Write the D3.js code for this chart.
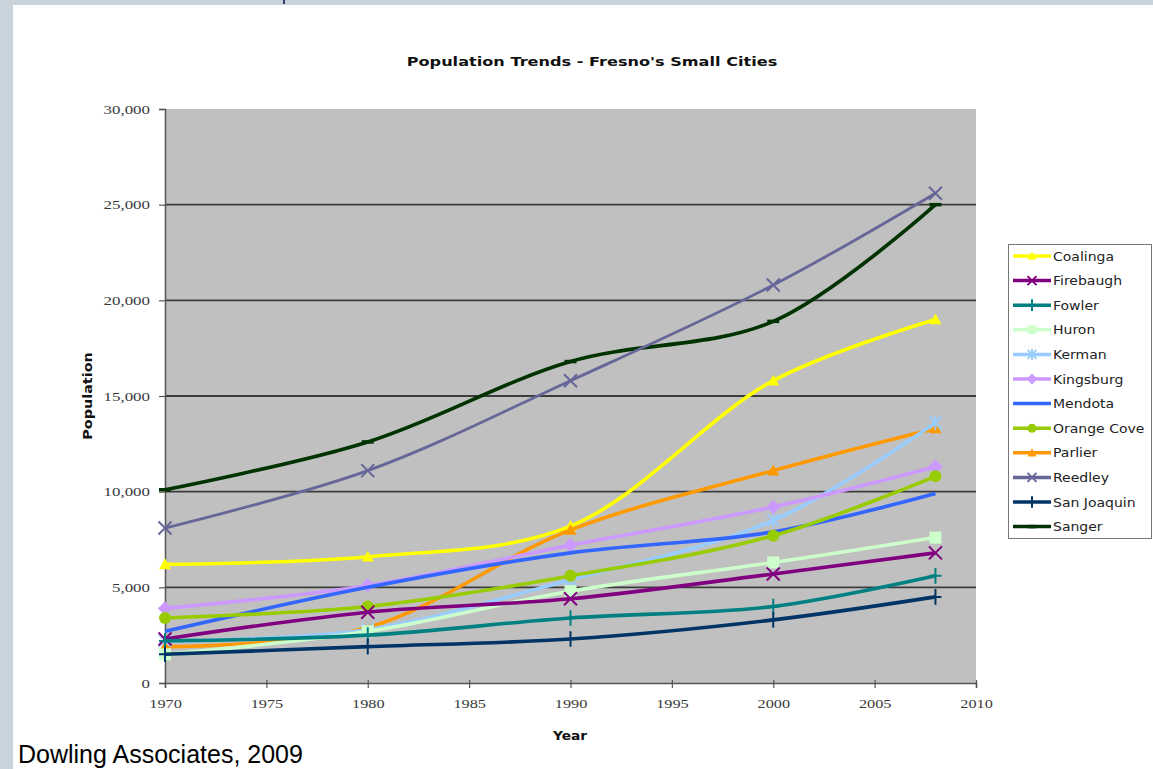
<!DOCTYPE html>
<html>
<head>
<meta charset="utf-8">
<script src="https://cdn.jsdelivr.net/npm/d3@7/dist/d3.min.js"></script>
<style>
  html, body { margin: 0; padding: 0; background: #c8d3dc; }
  svg { display: block; }
</style>
</head>
<body>
<svg id="chart" width="1153" height="769"></svg>
<script>
const years = [1970, 1980, 1990, 2000, 2008];
const cities = ["Coalinga","Firebaugh","Fowler","Huron","Kerman","Kingsburg","Mendota","Orange Cove","Parlier","Reedley","San Joaquin","Sanger"];
const coalinga   = [6200, 6600, 8200, 15800, 19000];
const firebaugh  = [2300, 3700, 4400, 5700, 6800];
const fowler     = [2200, 2500, 3400, 4000, 5600];
const huron      = [1500, 2700, 4800, 6300, 7600];
const kerman     = [2200, 2800, 5400, 8500, 13600];
const kingsburg  = [3900, 5100, 7200, 9200, 11300];
const mendota    = [2700, 5000, 6800, 7900, 9900];
const orangeCove = [3400, 4000, 5600, 7700, 10800];
const parlier    = [1900, 2900, 8000, 11100, 13300];
const reedley    = [8100, 11100, 15800, 20800, 25600];
const sanJoaquin = [1500, 1900, 2300, 3300, 4500];
const sanger     = [10100, 12600, 16800, 18900, 25000];
const yTicks = [0, 5000, 10000, 15000, 20000, 25000, 30000];
const xTicks = [1970, 1975, 1980, 1985, 1990, 1995, 2000, 2005, 2010];

const seriesValues = [coalinga, firebaugh, fowler, huron, kerman, kingsburg, mendota, orangeCove, parlier, reedley, sanJoaquin, sanger];
const colors = ["#ffff00","#800080","#008080","#ccffcc","#99ccff","#cc99ff","#3366ff","#99cc00","#ff9900","#666699","#003366","#003300"];
const markers = ["triangle","x","plus","square","asterisk","diamond","none","circle","triangle","x","plus","dash"];

function stretch(sel, factor) {
  sel.each(function () {
    const w = this.getComputedTextLength();
    d3.select(this).attr("textLength", w * factor).attr("lengthAdjust", "spacingAndGlyphs");
  });
}

const svg = d3.select("#chart");
// white page area
svg.append("rect").attr("x", 13).attr("y", 5).attr("width", 1140).attr("height", 764).attr("fill", "#ffffff");
svg.append("line").attr("x1", 284).attr("x2", 284).attr("y1", 0).attr("y2", 4).attr("stroke", "#334466").attr("stroke-width", 2);

const pLeft = 165, pRight = 976, pTop = 109, pBottom = 683;
const x = d3.scaleLinear().domain([1970, 2010]).range([pLeft, pRight]);
const y = d3.scaleLinear().domain([0, 30000]).range([pBottom, pTop]);

svg.append("rect").attr("x", pLeft).attr("y", pTop).attr("width", pRight - pLeft).attr("height", pBottom - pTop).attr("fill", "#c0c0c0");

// gridlines
svg.append("g").selectAll("line").data(yTicks.filter(d => d > 0 && d < 30000)).join("line")
  .attr("x1", pLeft).attr("x2", pRight).attr("y1", d => y(d)).attr("y2", d => y(d))
  .attr("stroke", "#3c3c3c").attr("stroke-width", 1.8);

// axes
const yAxis = d3.axisLeft(y).tickValues(yTicks).tickFormat(d3.format(",")).tickSize(6).tickPadding(9);
const gy = svg.append("g").attr("transform", `translate(${pLeft},0)`).call(yAxis);
gy.select(".domain").attr("stroke", "#555").attr("stroke-width", 1.5);
gy.selectAll(".tick line").attr("stroke", "#555").attr("stroke-width", 1.2);
gy.selectAll("text").attr("font-family", "Liberation Serif, serif").attr("font-size", 13).attr("fill", "#3a3a3a");
stretch(gy.selectAll("text"), 1.3);

const xAxis = d3.axisBottom(x).tickValues(xTicks).tickFormat(d3.format("d")).tickSize(5).tickPadding(11);
const gx = svg.append("g").attr("transform", `translate(0,${pBottom})`).call(xAxis);
gx.select(".domain").attr("stroke", "#555").attr("stroke-width", 1.5);
gx.selectAll(".tick line").attr("stroke", "#555").attr("stroke-width", 1.2).attr("y1", -3);
gx.selectAll("text").attr("font-family", "Liberation Serif, serif").attr("font-size", 13).attr("fill", "#3a3a3a");
stretch(gx.selectAll("text"), 1.25);

// titles
const title = svg.append("text").attr("x", 592).attr("y", 66).attr("text-anchor", "middle")
  .attr("font-family", "DejaVu Sans, sans-serif").attr("font-weight", "bold").attr("font-size", 13)
  .attr("fill", "#111").text("Population Trends - Fresno's Small Cities");
stretch(title, 1.24);
const ylab = svg.append("text").attr("transform", "translate(92,396) rotate(-90)").attr("text-anchor", "middle")
  .attr("font-family", "DejaVu Sans, sans-serif").attr("font-weight", "bold").attr("font-size", 12.5)
  .attr("fill", "#111").text("Population");
stretch(ylab, 1.15);
const xlab = svg.append("text").attr("x", 570).attr("y", 740).attr("text-anchor", "middle")
  .attr("font-family", "DejaVu Sans, sans-serif").attr("font-weight", "bold").attr("font-size", 12.5)
  .attr("fill", "#111").text("Year");
stretch(xlab, 1.1);
svg.append("text").attr("x", 18).attr("y", 763)
  .attr("font-family", "Liberation Sans, Arial, sans-serif").attr("font-size", 25)
  .attr("fill", "#000").text("Dowling Associates, 2009");

// marker drawing
function drawMarker(g, type, cx, cy, color, s) {
  const sw = 2;
  if (type === "triangle") {
    g.append("path").attr("d", `M${cx},${cy - s}L${cx + s},${cy + s * 0.8}L${cx - s},${cy + s * 0.8}Z`).attr("fill", color);
  } else if (type === "square") {
    g.append("rect").attr("x", cx - s).attr("y", cy - s).attr("width", 2 * s).attr("height", 2 * s).attr("fill", color);
  } else if (type === "diamond") {
    g.append("path").attr("d", `M${cx},${cy - s * 1.2}L${cx + s * 1.2},${cy}L${cx},${cy + s * 1.2}L${cx - s * 1.2},${cy}Z`).attr("fill", color);
  } else if (type === "circle") {
    g.append("circle").attr("cx", cx).attr("cy", cy).attr("r", s).attr("fill", color);
  } else if (type === "x") {
    g.append("path").attr("d", `M${cx - s},${cy - s}L${cx + s},${cy + s}M${cx - s},${cy + s}L${cx + s},${cy - s}`).attr("stroke", color).attr("stroke-width", sw);
  } else if (type === "plus") {
    g.append("path").attr("d", `M${cx},${cy - s * 1.3}L${cx},${cy + s * 1.3}M${cx - s},${cy}L${cx + s},${cy}`).attr("stroke", color).attr("stroke-width", sw);
  } else if (type === "asterisk") {
    g.append("path").attr("d", `M${cx - s},${cy - s}L${cx + s},${cy + s}M${cx - s},${cy + s}L${cx + s},${cy - s}M${cx},${cy - s * 1.2}L${cx},${cy + s * 1.2}`).attr("stroke", color).attr("stroke-width", sw);
  } else if (type === "dash") {
    g.append("path").attr("d", `M${cx - s},${cy}L${cx + s},${cy}`).attr("stroke", color).attr("stroke-width", 3.5);
  }
}

const line = d3.line().x(d => x(d[0])).y(d => y(d[1])).curve(d3.curveCatmullRom.alpha(0.5));
const plot = svg.append("g");
// draw order: back to front similar to reference
const order = [11, 9, 0, 8, 4, 5, 6, 7, 3, 1, 2, 10];
order.forEach(i => {
  const pts = years.map((yr, j) => [yr, seriesValues[i][j]]);
  const g = plot.append("g");
  g.append("path").attr("d", line(pts)).attr("fill", "none").attr("stroke", colors[i])
    .attr("stroke-width", i === 9 ? 2.8 : 3.6).attr("stroke-linejoin", "round");
  pts.forEach(p => drawMarker(g, markers[i], x(p[0]), y(p[1]), colors[i], i === 9 || i === 1 ? 6.5 : 6));
});

// legend
const lg = svg.append("g");
lg.append("rect").attr("x", 1008.5).attr("y", 244.5).attr("width", 143).attr("height", 294)
  .attr("fill", "#ffffff").attr("stroke", "#777").attr("stroke-width", 1);
cities.forEach((c, i) => {
  const ly = 256 + i * 24.6;
  const gi = lg.append("g");
  gi.append("line").attr("x1", 1013).attr("x2", 1051).attr("y1", ly).attr("y2", ly).attr("stroke", colors[i]).attr("stroke-width", 3.5);
  drawMarker(gi, markers[i], 1032, ly, colors[i], 4.5);
  const t = gi.append("text").attr("x", 1053).attr("y", ly + 4.5)
    .attr("font-family", "DejaVu Sans, sans-serif").attr("font-size", 12.5).attr("fill", "#222").text(c);
  stretch(t, 1.12);
});
</script>
</body>
</html>
